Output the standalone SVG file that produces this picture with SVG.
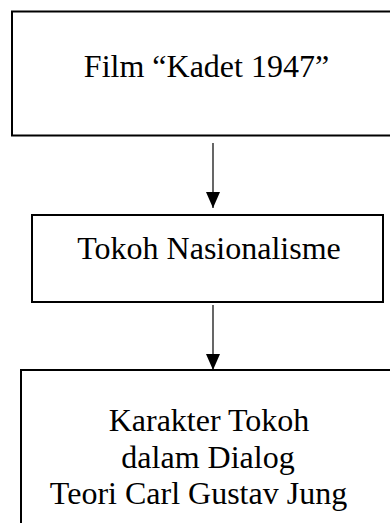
<svg xmlns="http://www.w3.org/2000/svg" width="390" height="523" viewBox="0 0 390 523">
<style>
.box{fill:#fff;stroke:#000;stroke-width:2}
.lbl{font-family:"Liberation Serif","Times New Roman",serif;font-size:32px;fill:#000;text-anchor:middle}
.conn{stroke:#000;stroke-width:1.2;fill:none}
</style>
<defs>
<marker id="ah" markerUnits="userSpaceOnUse" markerWidth="16" markerHeight="16" refX="16" refY="7" orient="auto">
<path d="M0,0 L16,7 L0,14 Z" fill="#000"/>
</marker>
</defs>
<rect width="390" height="523" fill="#fff"/>
<g id="node-film">
<rect class="box" x="12" y="11.5" width="400" height="124"/>
<text class="lbl" x="206.5" y="77">Film “Kadet 1947”</text>
</g>
<g id="node-tokoh">
<rect class="box" x="32" y="215" width="351" height="87"/>
<text class="lbl" x="209" y="259">Tokoh Nasionalisme</text>
</g>
<g id="node-karakter">
<rect class="box" x="21" y="370" width="400" height="170"/>
<text class="lbl" x="209" y="431">Karakter Tokoh</text>
<text class="lbl" x="208" y="468">dalam Dialog</text>
<text class="lbl" x="198.5" y="504">Teori  Carl Gustav Jung</text>
</g>
<g id="connectors">
<line class="conn" x1="213" y1="143" x2="213" y2="208" marker-end="url(#ah)"/>
<line class="conn" x1="213" y1="305" x2="213" y2="370" marker-end="url(#ah)"/>
</g>
</svg>
